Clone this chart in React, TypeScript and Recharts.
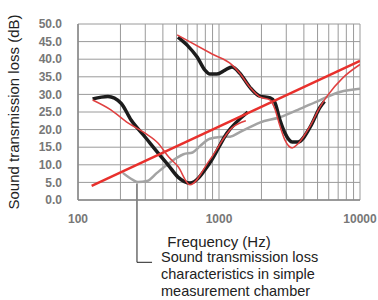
import React from 'react';
import { LineChart, Line, XAxis, YAxis, CartesianGrid, ReferenceLine } from 'recharts';

// Frequency (Hz) / loss (dB) readings
const blackLow = [
  { f: 127, db: 28.7 }, { f: 163, db: 29.4 }, { f: 202, db: 27.5 }, { f: 238, db: 22.7 },
  { f: 299, db: 17.9 }, { f: 369, db: 13.4 }, { f: 435, db: 10 }, { f: 512, db: 6.5 },
  { f: 622, db: 4.8 }, { f: 860, db: 10.5 }, { f: 1139, db: 19 }, { f: 1602, db: 25 },
];
const blackHigh = [
  { f: 512, db: 46.3 }, { f: 594, db: 44 }, { f: 700, db: 40.6 }, { f: 795, db: 36.9 },
  { f: 860, db: 35.8 }, { f: 967, db: 35.8 }, { f: 1104, db: 36.9 }, { f: 1236, db: 37.8 },
  { f: 1405, db: 36 }, { f: 1657, db: 32 }, { f: 1944, db: 29.5 }, { f: 2307, db: 29 },
  { f: 2483, db: 27.8 }, { f: 2706, db: 22.7 }, { f: 2937, db: 19 }, { f: 3303, db: 16.5 },
  { f: 3640, db: 16.5 }, { f: 4428, db: 20.7 }, { f: 5221, db: 26.4 }, { f: 5600, db: 28 },
];
const redLow = [
  { f: 127, db: 28.4 }, { f: 171, db: 25.6 }, { f: 226, db: 21.9 }, { f: 299, db: 19 },
  { f: 369, db: 16.2 }, { f: 440, db: 12.2 }, { f: 512, db: 9.5 }, { f: 622, db: 4.3 },
  { f: 860, db: 11.4 }, { f: 1236, db: 20.5 }, { f: 1550, db: 22.5 },
];
const redHigh = [
  { f: 505, db: 46.9 }, { f: 900, db: 41.4 }, { f: 1236, db: 38.4 }, { f: 1405, db: 36 },
  { f: 1657, db: 32 }, { f: 1944, db: 29.3 }, { f: 2307, db: 28.4 }, { f: 2483, db: 26 },
  { f: 2706, db: 21 }, { f: 2937, db: 17 }, { f: 3303, db: 14.8 }, { f: 3640, db: 16 },
  { f: 4428, db: 21 }, { f: 5221, db: 26.5 }, { f: 5842, db: 29.5 }, { f: 7548, db: 34.7 },
  { f: 10000, db: 38.5 },
];
const grayChamber = [
  { f: 208, db: 7.7 }, { f: 245, db: 5.7 }, { f: 266, db: 5.1 }, { f: 309, db: 5.4 },
  { f: 363, db: 7.7 }, { f: 428, db: 10 }, { f: 503, db: 12 }, { f: 560, db: 13 },
  { f: 650, db: 13.5 }, { f: 733, db: 15.3 }, { f: 860, db: 17.4 }, { f: 1016, db: 17.9 },
  { f: 1198, db: 18 }, { f: 1405, db: 19.3 }, { f: 1657, db: 20.7 }, { f: 1944, db: 22 },
  { f: 2706, db: 23.5 }, { f: 3624, db: 25.6 }, { f: 5221, db: 28.4 }, { f: 7198, db: 30.7 },
  { f: 10000, db: 31.6 },
];
const massLaw = [
  { f: 125, db: 4 }, { f: 10000, db: 39.5 },
];

const freqTicks = [100, 200, 300, 400, 500, 600, 700, 800, 900, 1000, 2000, 3000, 4000, 5000, 6000, 7000, 8000, 9000, 10000];
const freqLabels = [100, 1000, 10000];
const dbTicks = [0, 5, 10, 15, 20, 25, 30, 35, 40, 45, 50];

const annotationLines = ['Sound transmission loss', 'characteristics in simple', 'measurement chamber'];
const calloutFreq = 262;
const calloutDb = 5.1;
const calloutBottomDb = -17.7;
const calloutEndFreq = 335;

const font = '"Liberation Sans", Arial, sans-serif';

export default function App() {
  return (
    <div style={{ position: 'absolute', left: 0, top: 0, width: 378, height: 300, fontFamily: font }}>
      <LineChart width={378} height={300} margin={{ top: 24, right: 18, bottom: 50, left: 0 }}>
        <CartesianGrid stroke="#9a9a9a" strokeWidth={1} />
        <XAxis
          dataKey="f"
          type="number"
          scale="log"
          domain={[100, 10000]}
          ticks={freqTicks}
          allowDataOverflow
          height={50}
          tickLine={false}
          tickSize={0}
          tickMargin={14}
          axisLine={{ stroke: '#888', strokeWidth: 1.5 }}
          tickFormatter={(v: number) => (freqLabels.includes(v) ? String(v) : '')}
          tick={{ fill: '#777', fontSize: 12, fontWeight: 'bold', fontFamily: font }}
          interval={0}
          label={{ value: 'Frequency (Hz)', position: 'insideBottom', offset: 0, dy: -3, fill: '#222', fontSize: 15, fontFamily: font }}
        />
        <YAxis
          dataKey="db"
          type="number"
          domain={[0, 50]}
          ticks={dbTicks}
          width={78}
          tickLine={false}
          tickSize={0}
          tickMargin={16}
          axisLine={{ stroke: '#888', strokeWidth: 1.5 }}
          tickFormatter={(v: number) => v.toFixed(1)}
          tick={{ fill: '#777', fontSize: 12, fontWeight: 'bold', fontFamily: font }}
          interval={0}
        />
        <Line data={grayChamber} dataKey="db" type="monotone" stroke="#a3a3a3" strokeWidth={2.5} dot={false} isAnimationActive={false} />
        <Line data={blackLow} dataKey="db" type="monotone" stroke="#1c1c1c" strokeWidth={3.5} dot={false} isAnimationActive={false} />
        <Line data={blackHigh} dataKey="db" type="monotone" stroke="#1c1c1c" strokeWidth={3.5} dot={false} isAnimationActive={false} />
        <Line data={massLaw} dataKey="db" type="linear" stroke="#e8302c" strokeWidth={2.5} dot={false} isAnimationActive={false} />
        <Line data={redLow} dataKey="db" type="monotone" stroke="#e04040" strokeWidth={1.5} dot={false} isAnimationActive={false} />
        <Line data={redHigh} dataKey="db" type="monotone" stroke="#e04040" strokeWidth={1.5} dot={false} isAnimationActive={false} />
        <ReferenceLine
          segment={[{ x: calloutFreq, y: calloutDb - 0.4 }, { x: calloutFreq, y: calloutBottomDb }]}
          stroke="#222"
          strokeWidth={1}
          ifOverflow="visible"
        />
        <ReferenceLine
          segment={[{ x: calloutFreq, y: calloutBottomDb }, { x: calloutEndFreq, y: calloutBottomDb }]}
          stroke="#222"
          strokeWidth={1}
          ifOverflow="visible"
        />
      </LineChart>
      <div style={{ position: 'absolute', left: 6, top: 112, width: 16, height: 0 }}>
        <div
          style={{
            position: 'absolute', left: 8, top: 0, transform: 'translate(-50%, -50%) rotate(-90deg)',
            whiteSpace: 'nowrap', fontSize: 15, color: '#222', lineHeight: '16px',
          }}
        >
          Sound transmission loss (dB)
        </div>
      </div>
      <div
        style={{
          position: 'absolute', left: 161, top: 249, fontSize: 14.5, lineHeight: '16.8px', color: '#222', whiteSpace: 'nowrap',
        }}
      >
        {annotationLines.map((t) => (
          <div key={t}>{t}</div>
        ))}
      </div>
    </div>
  );
}
